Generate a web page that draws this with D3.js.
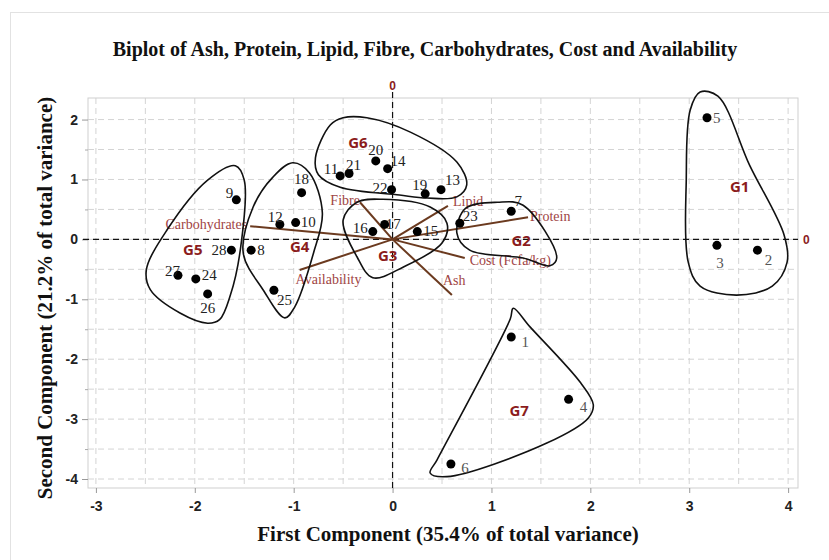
<!DOCTYPE html>
<html>
<head>
<meta charset="utf-8">
<script src="https://cdn.jsdelivr.net/npm/d3@7"></script>
<style>
  body { margin: 0; background: #fff; }
  svg { display: block; }
</style>
</head>
<body>
<svg id="chart"></svg>
<script>
// observations (PCA scores)
let pointIds = [5, 3, 2, 1, 4, 6, 7, 23, 15, 17, 16, 22, 19, 13, 20, 14, 11, 21, 18, 10, 12, 9, 28, 8, 27, 24, 26, 25]
let pointX = [3.18, 3.28, 3.69, 1.20, 1.78, 0.59, 1.20, 0.68, 0.25, -0.08, -0.20, -0.01, 0.33, 0.49, -0.17, -0.05, -0.53, -0.44, -0.92, -0.98, -1.14, -1.58, -1.63, -1.43, -2.17, -1.99, -1.87, -1.20]
let pointY = [2.03, -0.10, -0.18, -1.63, -2.67, -3.75, 0.47, 0.27, 0.13, 0.25, 0.13, 0.83, 0.76, 0.83, 1.31, 1.18, 1.06, 1.10, 0.78, 0.28, 0.25, 0.66, -0.18, -0.18, -0.60, -0.66, -0.91, -0.85]

// loadings
let vars = ['Carbohydrates', 'Availability', 'Fibre', 'Lipid', 'Protein', 'Cost (Fcfa/kg)', 'Ash']
let varX = [-1.44, -0.94, -0.33, 0.56, 1.37, 0.73, 0.60]
let varY = [0.22, -0.51, 0.62, 0.56, 0.37, -0.31, -0.93]

// groups
let groupNames = ['G1', 'G2', 'G3', 'G4', 'G5', 'G6', 'G7']
let groupLabelX = [3.51, 1.30, -0.05, -0.94, -2.02, -0.35, 1.28]
let groupLabelY = [0.88, -0.02, -0.28, -0.13, -0.17, 1.61, -2.87]
let groupOutlines = [
  [[3.11, 2.46], [3.29, 2.39], [3.61, 1.24], [3.96, 0.07], [3.99, -0.38], [3.84, -0.78], [3.48, -0.93], [3.11, -0.78], [2.99, -0.38], [2.97, 0.99], [3.01, 2.16]],
  [[0.65, 0.11], [0.74, 0.52], [1.06, 0.62], [1.32, 0.57], [1.66, -0.31], [1.59, -0.44], [1.32, -0.31], [0.78, -0.18]],
  [[-0.50, 0.32], [-0.36, 0.62], [-0.10, 0.67], [0.38, 0.54], [0.55, 0.27], [0.50, -0.06], [0.11, -0.46], [-0.20, -0.64], [-0.36, -0.29]],
  [[-1.01, 1.28], [-0.84, 1.11], [-0.71, 0.44], [-0.80, -0.23], [-0.99, -1.13], [-1.09, -1.31], [-1.31, -0.84], [-1.51, -0.23], [-1.41, 0.54], [-1.21, 1.04]],
  [[-1.59, 1.23], [-1.50, 0.99], [-1.54, -0.18], [-1.64, -0.93], [-1.75, -1.34], [-1.87, -1.40], [-2.15, -1.23], [-2.45, -0.84], [-2.49, -0.51], [-2.28, 0.16], [-1.87, 0.99]],
  [[-0.50, 2.03], [-0.26, 2.03], [0.18, 1.79], [0.65, 1.29], [0.75, 0.91], [0.65, 0.71], [0.35, 0.69], [0.07, 0.74], [-0.53, 0.87], [-0.75, 1.08], [-0.78, 1.36], [-0.63, 1.91]],
  [[1.22, -1.15], [1.39, -1.46], [1.90, -2.39], [2.03, -2.76], [1.98, -2.98], [1.56, -3.40], [0.55, -3.96], [0.38, -3.90], [0.45, -3.68], [1.19, -1.33]]
]

let xTicks = [-3, -2, -1, 0, 1, 2, 3, 4]
let yTicks = [-4, -3, -2, -1, 0, 1, 2]
let xDomain = [-3.08, 4.1]
let yDomain = [-4.15, 2.36]

let title = 'Biplot of Ash, Protein, Lipid, Fibre, Carbohydrates, Cost and Availability'
let xTitle = 'First Component (35.4% of total variance)'
let yTitle = 'Second Component (21.2% of total variance)'

// label placement (px offsets, anchor)
let pointLabelPos = {
  5: [6, 5, 'start'], 3: [3, 23, 'middle'], 2: [11, 15, 'middle'], 1: [14, 10, 'middle'],
  4: [15, 13, 'middle'], 6: [14, 9, 'middle'], 7: [7, -5, 'middle'], 23: [3, -2, 'start'],
  15: [6, 4, 'start'], 17: [1, 5, 'start'], 16: [-5, 1, 'end'], 22: [-4, 3, 'end'],
  19: [2, -4, 'end'], 13: [4, -5, 'start'], 20: [0, -6, 'middle'], 14: [3, -3, 'start'],
  11: [-2, -2, 'end'], 21: [-3, -3, 'start'], 18: [0, -9, 'middle'], 10: [5, 4, 'start'],
  12: [3, -2, 'end'], 9: [-3, -2, 'end'], 28: [-5, 5, 'end'], 8: [6, 5, 'start'],
  27: [2, 1, 'end'], 24: [6, 1, 'start'], 26: [0, 19, 'middle'], 25: [3, 15, 'start']
}
let varLabelPos = [[-3, 3, 'end'], [-4, 14, 'start'], [0, 3, 'end'], [5, 0, 'start'], [2, 4, 'start'], [5, 7, 'start'], [-9, -10, 'start']]

let width = 829
let height = 560
let plotLeft = 88, plotRight = 798, plotTop = 98, plotBottom = 488

let svg = d3.select('#chart').attr('width', width).attr('height', height)

let xScale = d3.scaleLinear().domain(xDomain).range([plotLeft, plotRight])
let yScale = d3.scaleLinear().domain(yDomain).range([plotBottom, plotTop])

// outer frame
svg.append('rect')
  .attr('x', 10.5).attr('y', 12.5).attr('width', 840).attr('height', 600)
  .attr('fill', 'none').attr('stroke', '#e2e2e2')

// grid every 0.5
let xGrid = d3.range(-3, 4.01, 0.5)
let yGrid = d3.range(-4, 2.01, 0.5)
let grid = svg.append('g')
grid.selectAll('.vg').data(xGrid).enter().append('line')
  .attr('x1', d => xScale(d)).attr('x2', d => xScale(d))
  .attr('y1', plotTop).attr('y2', plotBottom)
  .attr('stroke', '#d4d4d4').attr('stroke-dasharray', '6,4')
grid.selectAll('.hg').data(yGrid).enter().append('line')
  .attr('x1', plotLeft).attr('x2', plotRight)
  .attr('y1', d => yScale(d)).attr('y2', d => yScale(d))
  .attr('stroke', '#d4d4d4').attr('stroke-dasharray', '6,4')

svg.append('rect')
  .attr('x', plotLeft).attr('y', plotTop).attr('width', plotRight - plotLeft).attr('height', plotBottom - plotTop)
  .attr('fill', 'none').attr('stroke', '#cfcfcf')

// axes
let xAxis = d3.axisBottom(xScale).tickValues(xTicks).tickSize(5).tickPadding(8).tickFormat(d3.format('d'))
let xg = svg.append('g').attr('transform', 'translate(0,' + plotBottom + ')').call(xAxis)
let yAxis = d3.axisLeft(yScale).tickValues(yTicks).tickSize(6).tickPadding(4).tickFormat(d3.format('d'))
let yg = svg.append('g').attr('transform', 'translate(' + plotLeft + ',0)').call(yAxis)
let yMinor = d3.axisLeft(yScale).tickValues(yGrid.filter(d => d % 1 != 0)).tickSize(3).tickFormat('')
svg.append('g').attr('transform', 'translate(' + plotLeft + ',0)').call(yMinor)
  .call(g => g.select('.domain').remove())
  .selectAll('line').attr('stroke', '#aaa')
;[xg, yg].forEach(g => {
  g.select('.domain').remove()
  g.selectAll('line').attr('stroke', '#999')
  g.selectAll('text')
    .attr('font-family', 'Liberation Sans, Arial, sans-serif')
    .attr('font-weight', 'bold').attr('font-size', 14).attr('fill', '#222')
    .text(d => d < 0 ? '-' + Math.abs(d) : d)
})

// zero reference lines
svg.append('line')
  .attr('x1', xScale(0)).attr('x2', xScale(0)).attr('y1', plotTop - 6).attr('y2', plotBottom)
  .attr('stroke', '#111').attr('stroke-dasharray', '6,4').attr('stroke-width', 1.2)
svg.append('line')
  .attr('x1', plotLeft - 5).attr('x2', plotRight).attr('y1', yScale(0)).attr('y2', yScale(0))
  .attr('stroke', '#111').attr('stroke-dasharray', '6,4').attr('stroke-width', 1.2)
svg.append('text').attr('x', xScale(0)).attr('y', plotTop - 8).attr('text-anchor', 'middle')
  .attr('font-family', 'Liberation Sans, Arial, sans-serif').attr('font-weight', 'bold')
  .attr('font-size', 12).attr('fill', '#8b1c1c').text('0')
svg.append('text').attr('x', plotRight + 5).attr('y', yScale(0) + 5)
  .attr('font-family', 'Liberation Sans, Arial, sans-serif').attr('font-weight', 'bold')
  .attr('font-size', 12).attr('fill', '#8b1c1c').text('0')

// loading vectors
svg.selectAll('.vec').data(vars).enter().append('line')
  .attr('x1', xScale(0)).attr('y1', yScale(0))
  .attr('x2', (d, i) => xScale(varX[i])).attr('y2', (d, i) => yScale(varY[i]))
  .attr('stroke', '#6b3a1f').attr('stroke-width', 2)
svg.selectAll('.vlab').data(vars).enter().append('text')
  .attr('x', (d, i) => xScale(varX[i]) + varLabelPos[i][0])
  .attr('y', (d, i) => yScale(varY[i]) + varLabelPos[i][1])
  .attr('text-anchor', (d, i) => varLabelPos[i][2])
  .attr('font-family', 'Liberation Serif, Times New Roman, serif')
  .attr('font-size', 14).attr('fill', '#a04444')
  .text(d => d)

// group outlines
let outline = d3.line()
  .x(d => xScale(d[0])).y(d => yScale(d[1]))
  .curve(d3.curveCatmullRomClosed.alpha(0.5))
svg.selectAll('.hull').data(groupOutlines).enter().append('path')
  .attr('d', d => outline(d))
  .attr('fill', 'none').attr('stroke', '#111').attr('stroke-width', 1.6)

svg.selectAll('.glab').data(groupNames).enter().append('text')
  .attr('x', (d, i) => xScale(groupLabelX[i])).attr('y', (d, i) => yScale(groupLabelY[i]) + 5)
  .attr('text-anchor', 'middle')
  .attr('font-family', 'Open Sans, Liberation Sans, sans-serif').attr('font-weight', 'bold')
  .attr('font-size', 15).attr('fill', '#8b1c1c')
  .text(d => d)

// points
svg.selectAll('.pt').data(pointIds).enter().append('circle')
  .attr('cx', (d, i) => xScale(pointX[i])).attr('cy', (d, i) => yScale(pointY[i]))
  .attr('r', 4.5).attr('fill', '#000')
svg.selectAll('.plab').data(pointIds).enter().append('text')
  .attr('x', (d, i) => xScale(pointX[i]) + pointLabelPos[d][0])
  .attr('y', (d, i) => yScale(pointY[i]) + pointLabelPos[d][1])
  .attr('text-anchor', d => pointLabelPos[d][2])
  .attr('font-family', 'Liberation Serif, Times New Roman, serif')
  .attr('font-size', 15).attr('fill', (d, i) => pointX[i] > 1.5 || d == 1 || d == 6 ? '#555' : '#222')
  .text(d => d)

// titles
svg.append('text').attr('x', 425).attr('y', 56).attr('text-anchor', 'middle')
  .attr('font-family', 'Liberation Serif, Times New Roman, serif').attr('font-weight', 'bold')
  .attr('font-size', 20).attr('fill', '#111').text(title)
svg.append('text').attr('x', 448).attr('y', 541).attr('text-anchor', 'middle')
  .attr('font-family', 'Liberation Serif, Times New Roman, serif').attr('font-weight', 'bold')
  .attr('font-size', 21).attr('fill', '#111').text(xTitle)
svg.append('text').attr('transform', 'translate(52,' + 298 + ') rotate(-90)').attr('text-anchor', 'middle')
  .attr('font-family', 'Liberation Serif, Times New Roman, serif').attr('font-weight', 'bold')
  .attr('font-size', 21).attr('fill', '#111').text(yTitle)
</script>
</body>
</html>
